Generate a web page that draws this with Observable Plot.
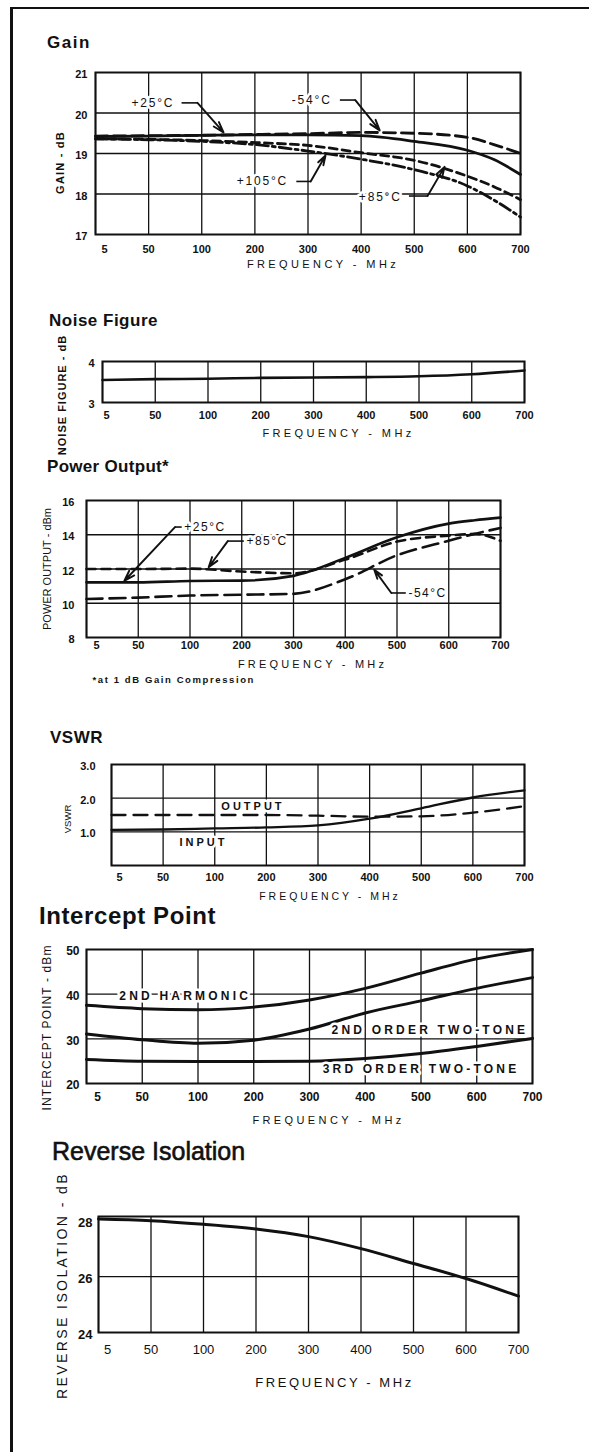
<!DOCTYPE html>
<html><head><meta charset="utf-8">
<script src="https://cdn.jsdelivr.net/npm/d3@7"></script>
<script src="https://cdn.jsdelivr.net/npm/@observablehq/plot@0.6"></script>
<style>
html,body{margin:0;padding:0;background:#fff}
#page{position:relative;width:589px;height:1452px;overflow:hidden;font-family:"Liberation Sans",Arial,Helvetica,sans-serif;color:#111}
.rule{position:absolute;background:#111}
.title{position:absolute;white-space:nowrap;line-height:1;font-weight:bold;color:#111}
.panel{position:absolute;left:0}
.panel svg{overflow:visible;display:block}
</style></head>
<body><div id="page"></div>
<script>
// ---------- data ----------
const FREQ = [5, 50, 100, 200, 300, 400, 500, 600, 700];

const GAIN_F    = [5, 50, 100, 200, 300, 400, 500, 600, 650, 700];
const GAIN_M54  = [19.43, 19.44, 19.45, 19.47, 19.49, 19.52, 19.50, 19.40, 19.22, 19.00];
const GAIN_P25  = [19.42, 19.43, 19.45, 19.46, 19.46, 19.44, 19.30, 19.08, 18.85, 18.48];
const GAIN_P85  = [19.36, 19.35, 19.32, 19.27, 19.20, 19.02, 18.83, 18.44, 18.18, 17.86];
const GAIN_P105 = [19.36, 19.34, 19.30, 19.22, 19.06, 18.86, 18.60, 18.20, 17.85, 17.43];
const GAIN_TICKS = [17, 18, 19, 20, 21];

const NOISE_FIG = [3.55, 3.57, 3.58, 3.60, 3.61, 3.62, 3.64, 3.69, 3.78];
const NOISE_TICKS = [3, 4];

const POUT_F   = [5, 50, 100, 200, 300, 400, 500, 600, 650, 700];
const POUT_P25 = [11.22, 11.22, 11.30, 11.32, 11.60, 12.65, 13.85, 14.65, 14.85, 15.00];
const POUT_P85 = [12.00, 12.00, 12.02, 11.85, 11.75, 12.55, 13.60, 13.95, 14.05, 13.65];
const POUT_M54 = [10.25, 10.33, 10.45, 10.50, 10.55, 11.40, 12.80, 13.65, 14.05, 14.40];
const POUT_TICKS = [8, 10, 12, 14, 16];

const VSWR_IN  = [1.06, 1.07, 1.10, 1.13, 1.19, 1.39, 1.70, 2.02, 2.23];
const VSWR_OUT = [1.50, 1.50, 1.50, 1.50, 1.48, 1.45, 1.46, 1.57, 1.76];
const VSWR_TICKS = [1, 2, 3];

const IP_2H = [37.5, 36.75, 36.5, 37.1, 38.7, 41.3, 44.7, 47.9, 50.0];
const IP_2T = [31.1, 29.8, 29.0, 29.7, 32.2, 35.8, 38.5, 41.3, 43.7];
const IP_3T = [25.4, 25.0, 24.9, 24.9, 25.0, 25.6, 26.7, 28.3, 30.1];
const IP_TICKS = [20, 30, 40, 50];

const REV_ISO = [28.06, 28.0, 27.87, 27.7, 27.43, 27.0, 26.47, 25.93, 25.3];
const REV_TICKS = [24, 26, 28];

// ---------- helpers ----------
const INK = "#111";
const tbl = (xs, ys) => xs.map((f, i) => ({f, v: ys[i]}));
// fractional grid index -> frequency on the piecewise axis
const at = i => { const k = Math.min(Math.floor(i), FREQ.length - 2); return FREQ[k] + (i - k) * (FREQ[k + 1] - FREQ[k]); };

const page = document.getElementById("page");
function addDiv(cls, style, text) {
  const d = document.createElement("div");
  d.className = cls; Object.assign(d.style, style);
  if (text) d.textContent = text;
  page.appendChild(d); return d;
}
// page frame (left & top rules)
addDiv("rule", {left: "10px", top: "7px", width: "2.5px", height: "1445px"});
addDiv("rule", {left: "10px", top: "7px", width: "579px", height: "2px"});

function buildPanel(p) {
  const W = 589;
  const L = p.mL, R = W - p.mR;
  const xRange = FREQ.map((_, i) => L + i * (R - L) / (FREQ.length - 1));
  const marks = [
    Plot.ruleX(FREQ, {stroke: INK, strokeWidth: 1.3}),
    Plot.ruleY(p.grid, {stroke: INK, strokeWidth: 1.3}),
    ...p.series.map(s => Plot.line(tbl(s.f, s.v), {x: "f", y: "v", stroke: INK, strokeWidth: s.w, strokeDasharray: s.dash, curve: "monotone-x"})),
    Plot.frame({stroke: INK, strokeWidth: 2}),
    Plot.text(p.yTicks, {y: d => d, text: p.yFmt, frameAnchor: "left", textAnchor: "end", lineAnchor: "middle", dx: p.yTickDx, dy: p.yTickDy, fontSize: p.tickSize, fontWeight: "bold", fill: INK}),
    Plot.text(FREQ.slice(1), {x: d => d, text: d => String(d), frameAnchor: "bottom", textAnchor: "middle", lineAnchor: "middle", dy: p.xTickDy, fontSize: p.tickSize, fontWeight: p.xTickWeight || "bold", fill: INK}),
    Plot.text([FREQ[0]], {x: d => d, text: d => String(d), frameAnchor: "bottom", textAnchor: "middle", lineAnchor: "middle", dy: p.xTickDy, dx: p.firstDx, fontSize: p.tickSize, fontWeight: p.xTickWeight || "bold", fill: INK}),
    Plot.text([p.xlab], {text: d => d, frameAnchor: "bottom", textAnchor: "middle", lineAnchor: "middle", dy: p.xlabDy, dx: p.xlabDx, fontSize: p.xlabSize, fill: INK}),
    Plot.text([p.ylab], {text: d => d, frameAnchor: "left", textAnchor: "middle", lineAnchor: "middle", rotate: -90, dx: p.ylabDx, dy: p.ylabDy, fontSize: p.ylabSize, fontWeight: p.ylabWeight, fill: INK})
  ];
  if (p.notes) {
    const n = p.notes, withPath = n.filter(d => d.path);
    marks.push(
      Plot.link(withPath, {x1: d => at(d.path[0][0]), y1: d => d.path[0][1], x2: d => at(d.path[1][0]), y2: d => d.path[1][1], stroke: INK, strokeWidth: 1.6}),
      Plot.arrow(withPath, {x1: d => at(d.path[1][0]), y1: d => d.path[1][1], x2: d => at(d.path[2][0]), y2: d => d.path[2][1], stroke: INK, strokeWidth: 1.9, headLength: 9, headAngle: 35})
    );
    for (const anchor of ["start", "middle"]) {
      const sub = n.filter(d => (d.anchor || "middle") === anchor);
      if (sub.length) marks.push(Plot.text(sub, {x: d => at(d.i), y: d => d.v, text: d => d.text, textAnchor: anchor, lineAnchor: "middle", fontSize: p.noteSize, fontWeight: p.noteWeight || "normal", fill: INK, stroke: "white", strokeWidth: 5}));
    }
  }
  if (p.footnote) {
    marks.push(Plot.text([p.footnote], {text: d => d, frameAnchor: "bottom-left", textAnchor: "start", lineAnchor: "middle", dx: 6, dy: p.footDy, fontSize: 9.5, fontWeight: "bold", fill: INK}));
  }
  const chart = Plot.plot({
    width: W, height: p.height,
    marginLeft: p.mL, marginRight: p.mR, marginTop: p.mT, marginBottom: p.mB,
    style: {fontFamily: "'Liberation Sans', Arial, sans-serif", background: "transparent", color: INK, overflow: "visible"},
    x: {type: "linear", domain: FREQ, range: xRange, axis: null, label: null},
    y: {domain: p.yDomain, axis: null, label: null},
    marks
  });
  // letter spacing for the spaced-out captions of the scan
  const spacing = new Map([[p.xlab, p.xlabLS], [p.ylab, p.ylabLS], [p.footnote, 1.6]]);
  (p.notes || []).forEach(d => spacing.set(d.text, p.noteLS));
  d3.select(chart).selectAll("text").each(function () {
    const ls = spacing.get(this.textContent);
    if (ls) this.style.letterSpacing = ls + "px";
  });
  const holder = addDiv("panel", {top: p.top + "px"});
  holder.appendChild(chart);
  const t = addDiv("title", {left: p.tx + "px", top: p.ty + "px", fontSize: p.tsize + "px", fontWeight: p.tweight || "bold", letterSpacing: (p.tls || 0) + "px"}, p.title);
  if (p.tstroke) t.style.webkitTextStroke = p.tstroke + "px #111";
}

// ---------- panels ----------
buildPanel({
  title: "Gain", tx: 47, ty: 34, tsize: 17, tls: 1.5,
  top: 58, height: 222, mL: 95, mR: 69, mT: 14, mB: 46,
  yDomain: [17, 21], grid: [18, 19, 20], yTicks: GAIN_TICKS, yFmt: d => String(d),
  yTickDx: -8, yTickDy: 2, tickSize: 11, xTickDy: 15, firstDx: 9,
  xlab: "FREQUENCY - MHz", xlabDy: 30, xlabDx: 15, xlabSize: 11, xlabLS: 3.4,
  ylab: "GAIN - dB", ylabDx: -35, ylabDy: 9, ylabSize: 11, ylabWeight: "bold", ylabLS: 1.2,
  series: [
    {f: GAIN_F, v: GAIN_M54, w: 2.8, dash: "12,6"},
    {f: GAIN_F, v: GAIN_P25, w: 2.8},
    {f: GAIN_F, v: GAIN_P85, w: 2.8, dash: "8,5"},
    {f: GAIN_F, v: GAIN_P105, w: 2.8, dash: "12,4,3,4"}
  ],
  noteSize: 12, noteLS: 1.8,
  notes: [
    {text: "+25°C", i: 1.08, v: 20.25, path: [[1.62, 20.25], [1.92, 20.25], [2.41, 19.52]]},
    {text: "-54°C", i: 4.07, v: 20.32, path: [[4.6, 20.32], [4.89, 20.32], [5.35, 19.57]]},
    {text: "+105°C", i: 3.14, v: 18.31, path: [[3.78, 18.31], [4.05, 18.31], [4.33, 18.95]]},
    {text: "+85°C", i: 5.36, v: 17.93, path: [[5.9, 17.95], [6.25, 17.95], [6.57, 18.67]]}
  ]
});

buildPanel({
  title: "Noise Figure", tx: 49, ty: 312, tsize: 17, tls: 0.5,
  top: 340, height: 110, mL: 102, mR: 65, mT: 21, mB: 48,
  yDomain: [3, 4], grid: [], yTicks: NOISE_TICKS, yFmt: d => String(d),
  yTickDx: -8, yTickDy: 2, tickSize: 11, xTickDy: 13, firstDx: 4,
  xlab: "FREQUENCY - MHz", xlabDy: 31, xlabDx: 25, xlabSize: 11, xlabLS: 3.4,
  ylab: "NOISE FIGURE - dB", ylabDx: -40, ylabDy: 13, ylabSize: 11, ylabWeight: "bold", ylabLS: 1,
  series: [{f: FREQ, v: NOISE_FIG, w: 2.6}]
});

buildPanel({
  title: "Power Output*", tx: 47, ty: 458, tsize: 17, tls: 0.3,
  top: 485, height: 205, mL: 86, mR: 89, mT: 15, mB: 53,
  yDomain: [8, 16], grid: [10, 12, 14], yTicks: POUT_TICKS, yFmt: d => String(d),
  yTickDx: -12, yTickDy: 2, tickSize: 11, xTickDy: 8, firstDx: 10,
  xlab: "FREQUENCY - MHz", xlabDy: 27, xlabDx: 19, xlabSize: 11, xlabLS: 3.2,
  ylab: "POWER OUTPUT - dBm", ylabDx: -39, ylabDy: 0, ylabSize: 11, ylabWeight: "normal", ylabLS: 0,
  footnote: "*at 1 dB Gain Compression", footDy: 42,
  series: [
    {f: POUT_F, v: POUT_P25, w: 2.6},
    {f: POUT_F, v: POUT_P85, w: 2.6, dash: "9,6"},
    {f: POUT_F, v: POUT_M54, w: 2.6, dash: "16,7"}
  ],
  noteSize: 12, noteLS: 1.5,
  notes: [
    {text: "+25°C", i: 1.89, v: 14.45, anchor: "start", path: [[1.84, 14.45], [1.71, 14.45], [0.73, 11.3]]},
    {text: "+85°C", i: 3.09, v: 13.63, anchor: "start", path: [[3.04, 13.63], [2.73, 13.63], [2.36, 12.1]]},
    {text: "-54°C", i: 6.22, v: 10.6, anchor: "start", path: [[6.17, 10.6], [5.89, 10.6], [5.56, 11.96]]}
  ]
});

buildPanel({
  title: "VSWR", tx: 50, ty: 729, tsize: 17, tls: 0.5,
  top: 750, height: 160, mL: 111, mR: 65, mT: 14, mB: 45,
  yDomain: [0, 3], grid: [1, 2], yTicks: VSWR_TICKS, yFmt: d3.format(".1f"),
  yTickDx: -16, yTickDy: 2, tickSize: 11, xTickDy: 12, firstDx: 8,
  xlab: "FREQUENCY - MHz", xlabDy: 31, xlabDx: 12, xlabSize: 10.5, xlabLS: 3,
  ylab: "VSWR", ylabDx: -44, ylabDy: 4, ylabSize: 9.5, ylabWeight: "normal", ylabLS: 0,
  series: [
    {f: FREQ, v: VSWR_IN, w: 2.3},
    {f: FREQ, v: VSWR_OUT, w: 2.3, dash: "14,8"}
  ],
  noteSize: 11, noteLS: 3, noteWeight: "bold",
  notes: [
    {text: "OUTPUT", i: 2.74, v: 1.75},
    {text: "INPUT", i: 1.78, v: 0.69}
  ]
});

buildPanel({
  title: "Intercept Point", tx: 39, ty: 904, tsize: 24, tls: 0.6,
  top: 930, height: 200, mL: 86, mR: 57, mT: 19, mB: 47,
  yDomain: [20, 50], grid: [30, 40], yTicks: IP_TICKS, yFmt: d => String(d),
  yTickDx: -7, yTickDy: 2, tickSize: 12, xTickDy: 14, firstDx: 11,
  xlab: "FREQUENCY - MHz", xlabDy: 37, xlabDx: 19, xlabSize: 11, xlabLS: 3.4,
  ylab: "INTERCEPT POINT - dBm", ylabDx: -39, ylabDy: 11, ylabSize: 12, ylabWeight: "normal", ylabLS: 1.1,
  series: [
    {f: FREQ, v: IP_2H, w: 3},
    {f: FREQ, v: IP_2T, w: 3},
    {f: FREQ, v: IP_3T, w: 3}
  ],
  noteSize: 12, noteLS: 3.2, noteWeight: "bold",
  notes: [
    {text: "2ND HARMONIC", i: 1.77, v: 39.6},
    {text: "2ND ORDER TWO-TONE", i: 6.16, v: 32},
    {text: "3RD ORDER TWO-TONE", i: 6.0, v: 23.3}
  ]
});

buildPanel({
  title: "Reverse Isolation", tx: 52, ty: 1139, tsize: 25, tweight: "normal", tls: 0, tstroke: 0.6,
  top: 1160, height: 240, mL: 98, mR: 71, mT: 56, mB: 68,
  yDomain: [24, 28.15], grid: [26], yTicks: REV_TICKS, yFmt: d => String(d),
  yTickDx: -6, yTickDy: 2, tickSize: 13, xTickDy: 17, firstDx: 9, xTickWeight: "normal",
  xlab: "FREQUENCY - MHz", xlabDy: 50, xlabDx: 26, xlabSize: 13, xlabLS: 2.6,
  ylab: "REVERSE ISOLATION - dB", ylabDx: -36, ylabDy: 11, ylabSize: 14, ylabWeight: "normal", ylabLS: 2.4,
  series: [{f: FREQ, v: REV_ISO, w: 3}]
});
</script>
</body></html>
